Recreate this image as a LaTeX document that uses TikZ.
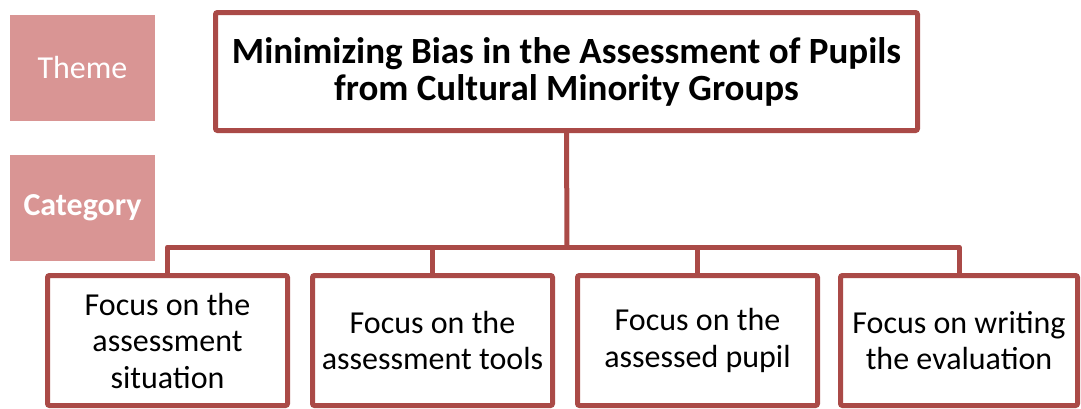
\documentclass[tikz,border=0pt]{standalone}
\usepackage{fontspec}
\setmainfont{Carlito}
\begin{document}
\definecolor{frame}{RGB}{170,74,71}
\definecolor{label}{RGB}{217,149,148}
\begin{tikzpicture}[x=1pt,y=-1pt,
  labelbox/.style={fill=label,draw=none,minimum width=145pt,minimum height=106pt,
    text=white,font={\fontsize{32}{36}\selectfont}},
  titlebox/.style={draw=frame,line width=5pt,rounded corners=2pt,fill=white,
    minimum width=702pt,minimum height=118pt,align=center,inner sep=0pt,
    font={\bfseries\fontsize{37}{37}\selectfont}},
  catbox/.style={draw=frame,line width=5pt,rounded corners=2pt,fill=white,
    minimum width=240pt,minimum height=130pt,align=center,inner sep=0pt,
    font={\fontsize{32}{36.5}\selectfont}},
  conn/.style={draw=frame,line width=5pt,line join=round}]
\useasboundingbox (0,0) rectangle (1081,408);

% side labels
\node[labelbox] (theme) at (82.5,67.5) {Theme};
\node[labelbox,font={\bfseries\fontsize{32}{36}\selectfont}] (category) at (82.5,207.5) {Category};

% title and the four categories
\coordinate (bus) at (567,247);
\node[titlebox] (title) at (566.5,71.5)
  {Minimizing Bias in the Assessment of Pupils\\from Cultural Minority Groups};
\node[catbox] (b1) at (167.5,340.5) {Focus on the\\assessment\\situation};
\node[catbox] (b2) at (432.5,340.5) {Focus on the\\assessment tools};
\node[catbox] (b3) at (697.5,340.5) {Focus on the\\assessed pupil};
\node[catbox,minimum width=237pt] (b4) at (959,340.5) {Focus on writing\\the evaluation};

% tree connectors
\draw[conn] (title.south) -- (bus);
\draw[conn] (b1.north) |- (bus) -| (b4.north);
\draw[conn] (b2.north) -- (b2.north |- bus);
\draw[conn] (b3.north) -- (b3.north |- bus);
\end{tikzpicture}
\end{document}
